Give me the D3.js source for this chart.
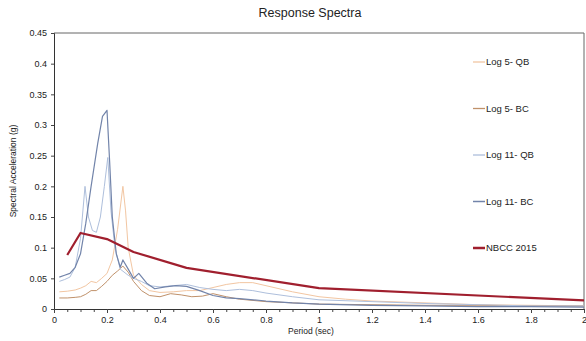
<!DOCTYPE html>
<html>
<head>
<meta charset="utf-8">
<script src="https://cdn.jsdelivr.net/npm/d3@7"></script>
<style>
  body { margin: 0; background: #fff; }
  svg { display: block; font-family: "Liberation Sans", Arial, sans-serif; }
</style>
</head>
<body>
<div id="viz"></div>
<script>
(function () {
  'use strict';

  // period (sec), spectral acceleration (g)
  var log5QB = [[0.02,0.028],[0.05,0.029],[0.08,0.031],[0.1,0.034],[0.12,0.038],[0.14,0.045],[0.16,0.043],[0.18,0.05],[0.2,0.058],[0.22,0.08],[0.24,0.13],[0.26,0.2],[0.27,0.16],[0.28,0.1],[0.3,0.055],[0.33,0.04],[0.36,0.03],[0.4,0.027],[0.45,0.028],[0.5,0.03],[0.55,0.03],[0.6,0.035],[0.65,0.04],[0.7,0.043],[0.75,0.043],[0.8,0.038],[0.9,0.028],[1.0,0.02],[1.1,0.016],[1.2,0.013],[1.4,0.01],[1.6,0.007],[1.8,0.006],[2.0,0.005]];
  var log5BC = [[0.02,0.018],[0.05,0.018],[0.08,0.019],[0.1,0.02],[0.12,0.024],[0.14,0.03],[0.16,0.03],[0.18,0.037],[0.2,0.045],[0.22,0.055],[0.24,0.062],[0.26,0.07],[0.28,0.06],[0.3,0.045],[0.33,0.03],[0.36,0.022],[0.4,0.02],[0.44,0.025],[0.48,0.023],[0.52,0.02],[0.56,0.021],[0.6,0.025],[0.65,0.02],[0.7,0.016],[0.8,0.012],[0.9,0.01],[1.0,0.008],[1.2,0.007],[1.4,0.006],[1.6,0.006],[1.8,0.005],[2.0,0.005]];
  var log11QB = [[0.02,0.045],[0.04,0.048],[0.06,0.052],[0.08,0.068],[0.1,0.115],[0.117,0.2],[0.13,0.15],[0.145,0.128],[0.16,0.125],[0.175,0.15],[0.19,0.2],[0.203,0.247],[0.215,0.16],[0.23,0.1],[0.25,0.065],[0.28,0.055],[0.3,0.05],[0.33,0.045],[0.36,0.038],[0.4,0.036],[0.45,0.038],[0.5,0.04],[0.55,0.035],[0.6,0.032],[0.65,0.03],[0.7,0.032],[0.75,0.03],[0.8,0.026],[0.9,0.02],[1.0,0.015],[1.2,0.012],[1.4,0.009],[1.6,0.007],[1.8,0.005],[2.0,0.005]];
  var log11BC = [[0.02,0.052],[0.04,0.055],[0.06,0.058],[0.08,0.068],[0.1,0.09],[0.12,0.14],[0.14,0.2],[0.165,0.27],[0.183,0.314],[0.2,0.324],[0.21,0.24],[0.22,0.15],[0.235,0.09],[0.25,0.068],[0.26,0.08],[0.28,0.065],[0.3,0.05],[0.32,0.058],[0.35,0.042],[0.38,0.033],[0.42,0.036],[0.46,0.038],[0.5,0.037],[0.55,0.03],[0.6,0.022],[0.65,0.018],[0.7,0.017],[0.8,0.013],[0.9,0.01],[1.0,0.008],[1.2,0.006],[1.4,0.005],[1.6,0.004],[1.8,0.004],[2.0,0.003]];
  var nbcc2015 = [[0.05,0.088],[0.1,0.124],[0.2,0.114],[0.3,0.093],[0.5,0.067],[1.0,0.034],[2.0,0.014]];

  var seriesNames = ['Log 5- QB', 'Log 5- BC', 'Log 11- QB', 'Log 11- BC', 'NBCC 2015'];
  var seriesData = [log5QB, log5BC, log11QB, log11BC, nbcc2015];
  var seriesColors = ['#f2c6a2', '#c0916a', '#aebfdc', '#7284aa', '#a01f2e'];
  var seriesWidths = [1, 1, 1, 1.2, 2.2];

  var xTicks = [0, 0.2, 0.4, 0.6, 0.8, 1, 1.2, 1.4, 1.6, 1.8, 2];
  var yTicks = [0, 0.05, 0.1, 0.15, 0.2, 0.25, 0.3, 0.35, 0.4, 0.45];

  var width = 586, height = 341;
  var margin = {top: 33, right: 2, bottom: 32, left: 54};

  var svg = d3.select('#viz').append('svg')
    .attr('width', width)
    .attr('height', height);

  var x = d3.scaleLinear().domain([0, 2]).range([margin.left, width - margin.right]);
  var y = d3.scaleLinear().domain([0, 0.45]).range([height - margin.bottom, margin.top]);

  // frame top / right
  svg.append('path')
    .attr('d', 'M' + x(0) + ',' + y(0.45) + 'H' + x(2) + 'V' + y(0))
    .attr('fill', 'none')
    .attr('stroke', '#666')
    .attr('stroke-width', 1);

  var yAxis = svg.append('g')
    .attr('transform', 'translate(' + x(0) + ',0)')
    .call(d3.axisLeft(y).tickValues(yTicks).tickSize(3).tickPadding(4)
      .tickFormat(function (d) { return d === 0 ? '0' : d3.format('.2~f')(d); }));

  var minor = d3.range(0, 2.001, 0.05);
  svg.append('g')
    .attr('transform', 'translate(0,' + y(0) + ')')
    .call(d3.axisBottom(x).tickValues(minor).tickSize(3).tickFormat(''))
    .call(function (g) { g.select('.domain').remove(); });

  var xAxis = svg.append('g')
    .attr('transform', 'translate(0,' + y(0) + ')')
    .call(d3.axisBottom(x).tickValues(xTicks).tickSize(4).tickPadding(4)
      .tickFormat(function (d) { return d3.format('~g')(d); }));

  [xAxis, yAxis].forEach(function (g) {
    g.selectAll('text').attr('font-size', 9).attr('fill', '#222')
      .attr('font-family', '"Liberation Sans", Arial, sans-serif');
    g.select('.domain').attr('stroke', '#333');
  });
  svg.selectAll('.tick line').attr('stroke', '#444');

  var line = d3.line()
    .x(function (d) { return x(d[0]); })
    .y(function (d) { return y(d[1]); });

  seriesData.forEach(function (data, i) {
    svg.append('path')
      .datum(data)
      .attr('fill', 'none')
      .attr('stroke', seriesColors[i])
      .attr('stroke-width', seriesWidths[i])
      .attr('stroke-linejoin', 'round')
      .attr('d', line);
  });

  // legend
  var legend = svg.append('g').attr('transform', 'translate(473,62)');
  seriesNames.forEach(function (name, i) {
    var row = legend.append('g').attr('transform', 'translate(0,' + (i * 46.5) + ')');
    row.append('line')
      .attr('x1', 0).attr('x2', 12)
      .attr('stroke', seriesColors[i])
      .attr('stroke-width', seriesWidths[i] + 0.3);
    row.append('text')
      .attr('x', 13).attr('dy', '0.35em')
      .attr('font-size', 9.5).attr('fill', '#222')
      .text(name);
  });

  svg.append('text')
    .attr('x', 310).attr('y', 17)
    .attr('text-anchor', 'middle')
    .attr('font-size', 12.5).attr('fill', '#222')
    .text('Response Spectra');

  svg.append('text')
    .attr('x', 311).attr('y', 334)
    .attr('text-anchor', 'middle')
    .attr('font-size', 8.5).attr('fill', '#222')
    .text('Period (sec)');

  svg.append('text')
    .attr('transform', 'translate(16,' + ((y(0) + y(0.45)) / 2) + ') rotate(-90)')
    .attr('text-anchor', 'middle')
    .attr('font-size', 8.5).attr('fill', '#222')
    .text('Spectral Acceleration (g)');
}());
</script>
</body>
</html>
